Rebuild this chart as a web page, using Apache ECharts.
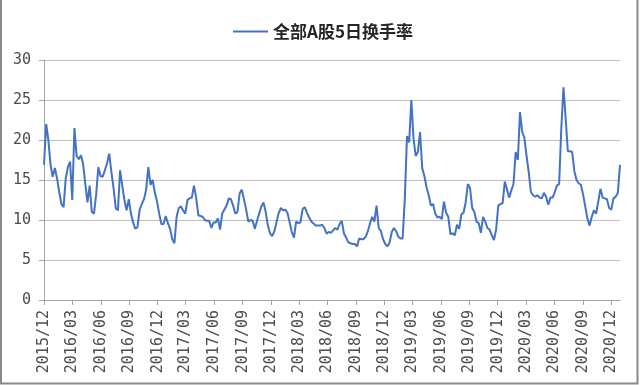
<!DOCTYPE html>
<html><head><meta charset="utf-8">
<script src="https://cdn.jsdelivr.net/npm/echarts@6/dist/echarts.min.js"></script>
<style>html,body{margin:0;padding:0;background:#fff}#c{width:640px;height:385px}</style>
</head><body><div id="c"></div>
<script>
const seriesName = '全部A股5日换手率';
const startDate = [2015, 11, 1]; // first weekly observation: 2015-12-01
const stepDays = 7;
const turnover = [
16.9,22.0,20.0,16.9,15.4,16.5,15.2,13.5,12.0,11.6,
15.2,16.6,17.3,12.5,21.5,18.0,17.6,18.1,17.0,14.5,
12.2,14.3,11.0,10.8,13.2,16.6,15.5,15.4,16.2,17.1,
18.3,16.0,14.0,11.5,11.2,16.2,14.3,12.5,11.2,12.6,
10.8,9.7,8.9,9.1,11.3,12.0,12.6,13.8,16.6,14.4,
15.0,13.4,12.3,10.8,9.5,9.5,10.5,9.6,8.9,7.6,
7.1,10.4,11.5,11.7,11.2,10.8,12.5,12.7,12.8,14.3,
12.8,10.6,10.5,10.4,10.0,9.9,9.9,9.0,9.7,9.7,
10.2,8.8,10.8,11.3,11.8,12.7,12.6,11.8,10.8,11.0,
13.3,13.8,12.6,11.3,9.8,10.0,9.9,8.9,9.9,10.8,
11.7,12.2,11.0,9.3,8.3,8.0,8.6,9.75,10.9,11.5,
11.2,11.3,10.9,9.7,8.5,7.8,9.8,9.6,9.7,11.4,
11.6,10.9,10.3,9.8,9.55,9.3,9.3,9.3,9.4,9.0,
8.3,8.5,8.4,8.7,9.0,8.8,9.5,9.9,8.3,7.8,
7.2,7.1,7.0,7.0,6.7,7.7,7.6,7.6,7.9,8.6,
9.6,10.4,9.8,11.8,9.0,8.6,7.6,7.0,6.7,7.2,
8.5,9.0,8.6,7.9,7.7,7.7,12.7,20.5,19.7,25.0,
20.2,18.0,18.5,21.0,16.5,15.5,14.1,13.1,11.8,12.0,
10.8,10.3,10.4,10.1,12.3,10.9,10.4,8.2,8.35,8.1,
9.4,8.9,10.7,10.9,12.2,14.5,14.0,11.5,11.0,9.8,
9.6,8.4,10.4,9.8,9.0,8.8,8.1,7.5,8.8,11.8,
12.0,12.1,14.8,13.8,12.8,13.7,14.5,18.5,17.5,23.5,
21.0,20.3,18.0,16.0,13.5,13.1,12.9,13.1,12.8,12.7,
13.4,12.9,11.9,12.8,12.8,13.5,14.3,14.5,21.5,26.6,
22.7,18.6,18.6,18.5,16.1,15.0,14.6,14.4,13.2,11.7,
10.2,9.3,10.4,11.2,10.8,12.3,13.9,12.8,12.7,12.6,
11.5,11.3,12.7,12.9,13.4,16.9
];
const xTickLabels = ['2015/12','2016/03','2016/06','2016/09','2016/12','2017/03','2017/06','2017/09','2017/12',
  '2018/03','2018/06','2018/09','2018/12','2019/03','2019/06','2019/09','2019/12','2020/03','2020/06','2020/09','2020/12'];
const yMin = 0, yMax = 30, yStep = 5;

const dates = turnover.map((_, i) => new Date(startDate[0], startDate[1], startDate[2] + i * stepDays).getTime());
const tickTimes = xTickLabels.map(s => { const p = s.split('/').map(Number); return new Date(p[0], p[1] - 1, 1).getTime(); });
const pad = n => (n < 10 ? '0' : '') + n;

const chart = echarts.init(document.getElementById('c'), null, {renderer: 'canvas'});
chart.setOption({
  animation: false,
  backgroundColor: '#ffffff',
  legend: {
    data: [seriesName], left: 228, top: 18, icon: 'rect', itemWidth: 35, itemHeight: 2,
    textStyle: {fontFamily: 'Noto Sans CJK SC', fontSize: 17, color: '#262626', fontWeight: 'bold'}
  },
  grid: {left: 44, right: 20, top: 60, bottom: 85},
  xAxis: {
    type: 'value', min: dates[0], max: dates[dates.length - 1], scale: true,
    splitLine: {show: false},
    axisLine: {lineStyle: {color: '#a6a6a6', width: 1}},
    axisTick: {show: true, customValues: tickTimes, length: 5, lineStyle: {color: '#a6a6a6'}},
    axisLabel: {
      customValues: tickTimes, rotate: 90, margin: 10, hideOverlap: false,
      showMinLabel: true, showMaxLabel: true,
      formatter: v => { const d = new Date(v); return d.getFullYear() + '/' + pad(d.getMonth() + 1); },
      fontFamily: 'DejaVu Sans Mono', fontSize: 15, color: '#4d4d4d'
    }
  },
  yAxis: {
    type: 'value', min: yMin, max: yMax, interval: yStep,
    axisLine: {show: true, lineStyle: {color: '#a6a6a6', width: 1}},
    axisTick: {show: true, length: 5, lineStyle: {color: '#a6a6a6'}},
    splitLine: {lineStyle: {color: '#bfbfbf', width: 1}},
    axisLabel: {margin: 13, fontFamily: 'DejaVu Sans Mono', fontSize: 15, color: '#4d4d4d'}
  },
  series: [{
    name: seriesName, type: 'line', showSymbol: false,
    data: dates.map((d, i) => [d, turnover[i]]),
    lineStyle: {color: '#4472C4', width: 2}, itemStyle: {color: '#4472C4'}
  }],
  graphic: [{
    type: 'rect', silent: true, z: 100,
    shape: {x: 1, y: -5, width: 636.5, height: 388.5},
    style: {fill: null, stroke: '#8a8a8a', lineWidth: 2}
  }]
});
</script></body></html>
